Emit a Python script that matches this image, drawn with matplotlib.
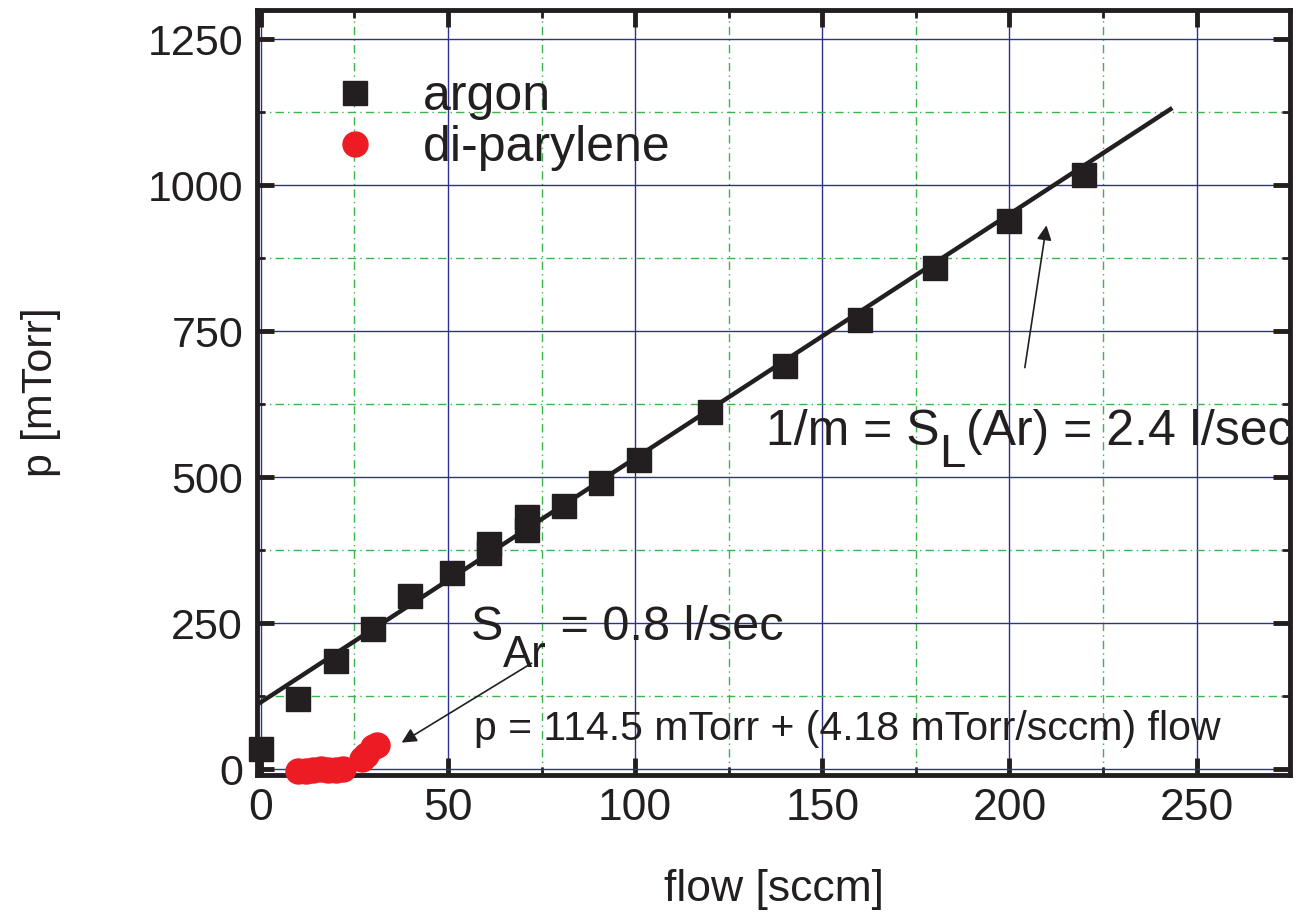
import matplotlib
matplotlib.use('Agg')
import matplotlib.pyplot as plt
from matplotlib.ticker import MultipleLocator
from matplotlib.transforms import offset_copy

# --- data ---
argon_flow = [0, 10, 20, 30, 40, 51, 61, 61, 71, 71, 81, 91, 101, 120, 140, 160, 180, 200, 220]
argon_p = [35, 120, 185, 240, 296, 336, 370, 385, 409, 432, 450, 490, 530, 611, 690, 770, 858, 938, 1017]

dip_flow = [10, 12, 14, 16, 18, 20, 22, 27, 28, 30, 31]
dip_p = [-3, -3, -2, 0, -2, -1, 0, 17, 24, 38, 42]

fit_flow = [0, 243]
fit_intercept, fit_slope = 114.5, 4.18

INK = '#231f20'
plt.rcParams['font.family'] = ['Liberation Sans', 'DejaVu Sans']

fig = plt.figure(figsize=(12.98, 9.15), dpi=100)
ax = fig.add_axes([0.198, 0.153, 0.796, 0.836])

fit_p = [fit_intercept + fit_slope * f for f in fit_flow]
ax.plot(fit_flow, fit_p, color=INK, lw=3.2, zorder=3)
ax.plot(argon_flow, argon_p, 's', color=INK, ms=17, label='argon', zorder=4, clip_on=False)
ax.plot(dip_flow, dip_p, 'o-', color='#ed1c24', ms=18, lw=2, label='di-parylene', zorder=5, clip_on=False)

ax.set_xlim(-1, 275)
ax.set_ylim(-10, 1300)
ax.xaxis.set_major_locator(MultipleLocator(50))
ax.xaxis.set_minor_locator(MultipleLocator(25))
ax.yaxis.set_major_locator(MultipleLocator(250))
ax.yaxis.set_minor_locator(MultipleLocator(125))

ax.grid(which='major', color='#2e3192', lw=1.0, ls='-')
ax.grid(which='minor', color='#39b54a', lw=1.0, ls=(0, (6, 3, 1, 3)))
ax.set_axisbelow(True)

for s in ax.spines.values():
    s.set_linewidth(3.5)
    s.set_color(INK)
ax.tick_params(which='both', direction='in', top=True, right=True, color=INK, labelcolor=INK)
ax.tick_params(which='major', length=12, width=3.5)
ax.tick_params(which='minor', length=6, width=2)
ax.tick_params(axis='y', labelsize=31, pad=10)
ax.tick_params(axis='x', labelsize=32, pad=9)

ax.set_xlabel('flow [sccm]', fontsize=32, labelpad=29, color=INK)
ax.set_ylabel('p [mTorr]', fontsize=31, labelpad=62, color=INK)

leg = ax.legend(loc='upper left', bbox_to_anchor=(0.015, 0.975), frameon=False,
                fontsize=36, handletextpad=0.6, labelspacing=0.1, handlelength=1.5)
for h in leg.legend_handles:
    h.set_linestyle('none')
for t in leg.get_texts():
    t.set_color(INK)


def rich_text(x, y, pieces, size):
    """pieces: list of (text, dy in points, size factor); placed left to right"""
    fig.canvas.draw()
    r = fig.canvas.get_renderer()
    dx = 0
    for txt, dy, f in pieces:
        tr = offset_copy(ax.transData, fig=fig, x=dx, y=dy, units='points')
        t = ax.text(x, y, txt, transform=tr, fontsize=size * f, ha='left',
                    va='baseline', color=INK)
        w = t.get_window_extent(renderer=r).width
        dx += w * 72 / fig.dpi


rich_text(56, 222, [('S', 0, 1), ('Ar', -20, 0.9), (' = 0.8 l/sec', 0, 1)], 35)
rich_text(135, 555, [('1/m = S', 0, 1), ('L', -16, 0.95), ('(Ar) = 2.4 l/sec', 0, 1)], 36)
ax.text(57, 68, 'p = 114.5 mTorr + (4.18 mTorr/sccm) flow', fontsize=29.5,
        ha='left', va='center', color=INK)

arrow = dict(arrowstyle='-|>', color=INK, lw=1.2, mutation_scale=22)
ax.annotate('', xy=(210, 936), xytext=(204, 683), arrowprops=arrow)
ax.annotate('', xy=(37, 43), xytext=(73, 184), arrowprops=arrow)

fig.savefig('out.png', dpi=100)
